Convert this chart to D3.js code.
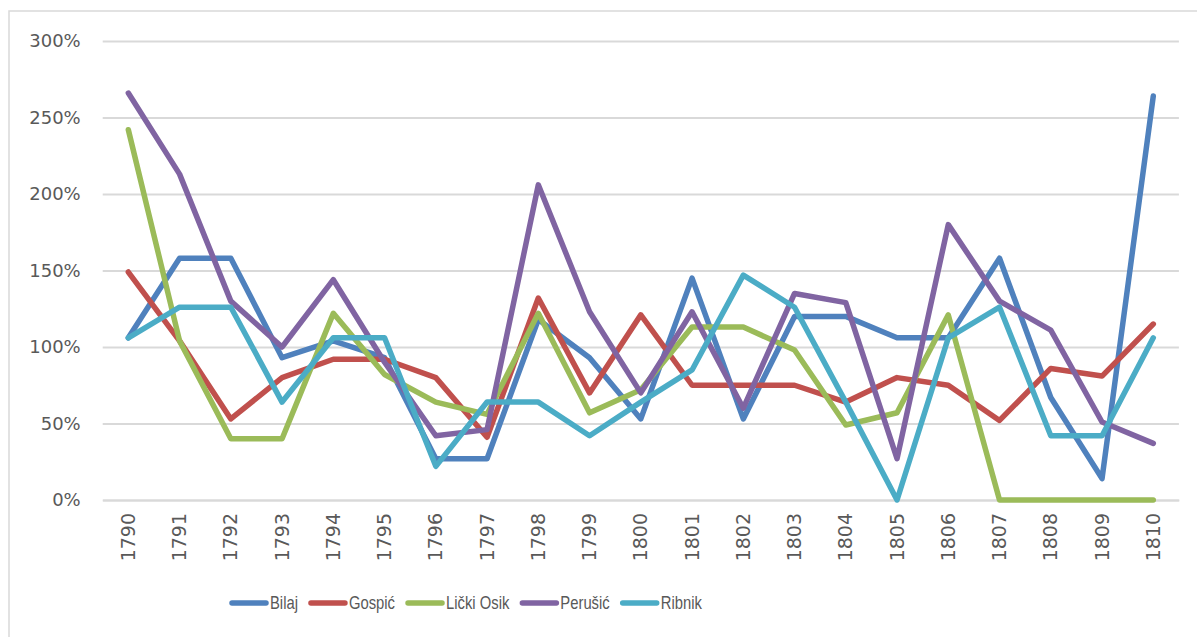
<!DOCTYPE html>
<html>
<head>
<meta charset="utf-8">
<script src="https://cdn.jsdelivr.net/npm/d3@7"></script>
<style>
  html, body { margin: 0; padding: 0; background: #fff; }
  svg { display: block; }
</style>
</head>
<body>
<svg id="chart" width="1197" height="637"></svg>
<script>
// Years on the category axis
const years = ["1790","1791","1792","1793","1794","1795","1796","1797","1798","1799","1800",
               "1801","1802","1803","1804","1805","1806","1807","1808","1809","1810"];

// Percent values per settlement
const bilaj     = [106,158,158, 93,104, 93, 27, 27,118, 93, 53,145, 53,120,120,106,106,158, 67, 14,264];
const gospic    = [149,104, 53, 80, 92, 92, 80, 41,132, 70,121, 75, 75, 75, 64, 80, 75, 52, 86, 81,115];
const lickiOsik = [242,104, 40, 40,122, 82, 64, 56,122, 57, 72,113,113, 98, 49, 57,121,  0,  0,  0,  0];
const perusic   = [266,213,130,100,144, 90, 42, 46,206,123, 70,123, 60,135,129, 27,180,130,111, 51, 37];
const ribnik    = [106,126,126, 64,106,106, 22, 64, 64, 42, 64, 85,147,126, 64,  0,106,126, 42, 42,106];

const seriesNames  = ["Bilaj", "Gospić", "Lički Osik", "Perušić", "Ribnik"];
const seriesValues = [bilaj, gospic, lickiOsik, perusic, ribnik];
const seriesColors = ["#4f81bd", "#c0504d", "#9bbb59", "#8064a2", "#4bacc6"];

const yTicks = [0, 50, 100, 150, 200, 250, 300];

const svg = d3.select("#chart");

// Outer chart frame
svg.append("rect")
  .attr("x", 9).attr("y", 11)
  .attr("width", 1230).attr("height", 680)
  .attr("fill", "none")
  .attr("stroke", "#d9d9d9")
  .attr("stroke-width", 1.5);

const x = d3.scaleBand().domain(years).range([102.7, 1178.9]);
const y = d3.scaleLinear().domain([0, 300]).range([500, 41]);

// Horizontal gridlines and percent labels
const yAxis = svg.append("g")
  .attr("transform", "translate(102.7,0)")
  .call(d3.axisLeft(y).tickValues(yTicks)
        .tickSize(-(1178.9 - 102.7))
        .tickPadding(22)
        .tickFormat(d => d + "%"));
yAxis.select(".domain").remove();
yAxis.selectAll(".tick line")
  .attr("stroke", "#d9d9d9")
  .attr("stroke-width", 2);
yAxis.selectAll(".tick text")
  .attr("fill", "#595959")
  .style("font-family", "'DejaVu Sans', sans-serif")
  .style("font-size", "18px");

// Category axis with rotated year labels
const xAxis = svg.append("g")
  .attr("transform", "translate(0,500)")
  .call(d3.axisBottom(x).tickSize(0));
xAxis.select(".domain").attr("stroke", "#d9d9d9").attr("stroke-width", 2);
xAxis.selectAll(".tick text")
  .attr("fill", "#595959")
  .style("font-family", "'DejaVu Sans', sans-serif")
  .style("font-size", "19px")
  .attr("text-anchor", "end")
  .attr("dy", "0.35em")
  .attr("transform", "translate(0,13) rotate(-90)")
  .attr("x", 0)
  .attr("y", 0);

// Series lines
const line = d3.line()
  .x((d, i) => x(years[i]) + x.bandwidth() / 2)
  .y(d => y(d));

svg.append("g").selectAll("path")
  .data(seriesValues)
  .join("path")
  .attr("d", d => line(d))
  .attr("fill", "none")
  .attr("stroke", (d, i) => seriesColors[i])
  .attr("stroke-width", 5.5)
  .attr("stroke-linejoin", "round")
  .attr("stroke-linecap", "round");

// Legend (condensed labels drawn with a horizontal squeeze)
const squeeze = 0.8;
const legend = svg.append("g").attr("transform", "translate(0,603)");
let lx = 232;
seriesNames.forEach((name, i) => {
  const g = legend.append("g").attr("transform", `translate(${lx},0)`);
  g.append("line")
    .attr("x1", 0).attr("x2", 34)
    .attr("y1", 0).attr("y2", 0)
    .attr("stroke", seriesColors[i])
    .attr("stroke-width", 5.5)
    .attr("stroke-linecap", "round");
  const t = g.append("text")
    .attr("transform", `translate(38,0) scale(${squeeze},1)`)
    .attr("dy", "0.35em")
    .attr("fill", "#595959")
    .style("font-family", "'Liberation Sans', Arial, sans-serif")
    .style("font-size", "18.5px")
    .text(name);
  lx += 38 + t.node().getComputedTextLength() * squeeze + 13;
});
</script>
</body>
</html>
